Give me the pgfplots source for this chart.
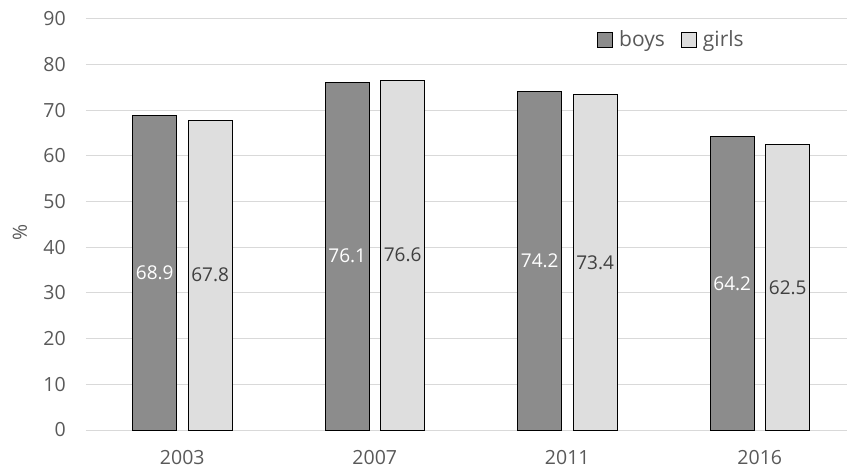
\documentclass[border=0pt]{standalone}
\usepackage{pgfplots}
\usepackage{pgfplotstable}
\pgfplotsset{compat=1.18}
\usepackage{fontspec}
\setmainfont{Open Sans}
\definecolor{boysc}{RGB}{140,140,140}
\definecolor{girlsc}{RGB}{222,222,222}
\definecolor{txt}{RGB}{89,89,89}
\definecolor{gridc}{RGB}{217,217,217}
\pgfplotstableread{
x boys girls
0 68.9 67.8
1 76.1 76.6
2 74.2 73.4
3 64.2 62.5
}\data
\begin{document}
\begin{tikzpicture}
\path[use as bounding box] (-86pt,-39pt) rectangle (761pt,430pt);
\begin{axis}[
  scale only axis, width=761pt, height=411pt,
  xmin=-0.5, xmax=3.453, ymin=0, ymax=90,
  ytick={0,10,...,90},
  xtick={0,1,2,3}, xticklabels={2003,2007,2011,2016},
  /pgf/number format/assume math mode=true,
  axis y line*=left, axis x line*=bottom,
  y axis line style={draw=none},
  x axis line style={draw=gridc, line width=1pt},
  major tick length=0pt,
  ymajorgrids, grid style={draw=gridc, line width=1pt},
  tick label style={font=\fontsize{19.5}{21}\selectfont, text=txt},
  yticklabel style={inner sep=0pt, anchor=east, xshift=-20pt},
  xticklabel style={inner sep=0pt, anchor=north, yshift=-20pt},
  ylabel={\%}, ylabel style={font=\fontsize{19.5}{21}\selectfont, text=txt, at={(axis description cs:-0.0867,0.4805)}, anchor=center},
  legend style={at={(axis description cs:0.6715,0.950)}, anchor=west, draw=none, fill=none,
    font=\fontsize{21}{23}\selectfont, text=txt, legend columns=2,
    nodes={inner sep=0pt},
    /tikz/every odd column/.append style={column sep=6pt},
    /tikz/every even column/.append style={column sep=16pt}, inner sep=0pt},
  legend image code/.code={\draw[#1, line width=1pt] (0pt,-7.5pt) rectangle (15pt,7.5pt);},
  clip=false,
]
\addplot[ybar, bar width=0.2286, bar shift=-0.143, fill=boysc, draw=black, line width=1pt] table[x=x, y=boys] {\data};
\addlegendentry{boys}
\addplot[ybar, bar width=0.2286, bar shift=0.145, fill=girlsc, draw=black, line width=1pt] table[x=x, y=girls] {\data};
\addlegendentry{girls}
\addplot[draw=none, mark=none, forget plot, nodes near coords, point meta=explicit,
  nodes near coords style={anchor=center, text=white, font=\fontsize{19}{21}\selectfont, /pgf/number format/.cd, fixed, fixed zerofill, precision=1}]
  table[x expr=\thisrow{x}-0.143, y expr=\thisrow{boys}/2, meta=boys] {\data};
\addplot[draw=none, mark=none, forget plot, nodes near coords, point meta=explicit,
  nodes near coords style={anchor=center, text=black!75, font=\fontsize{19}{21}\selectfont, /pgf/number format/.cd, fixed, fixed zerofill, precision=1}]
  table[x expr=\thisrow{x}+0.145, y expr=\thisrow{girls}/2, meta=girls] {\data};
\end{axis}
\end{tikzpicture}
\end{document}
